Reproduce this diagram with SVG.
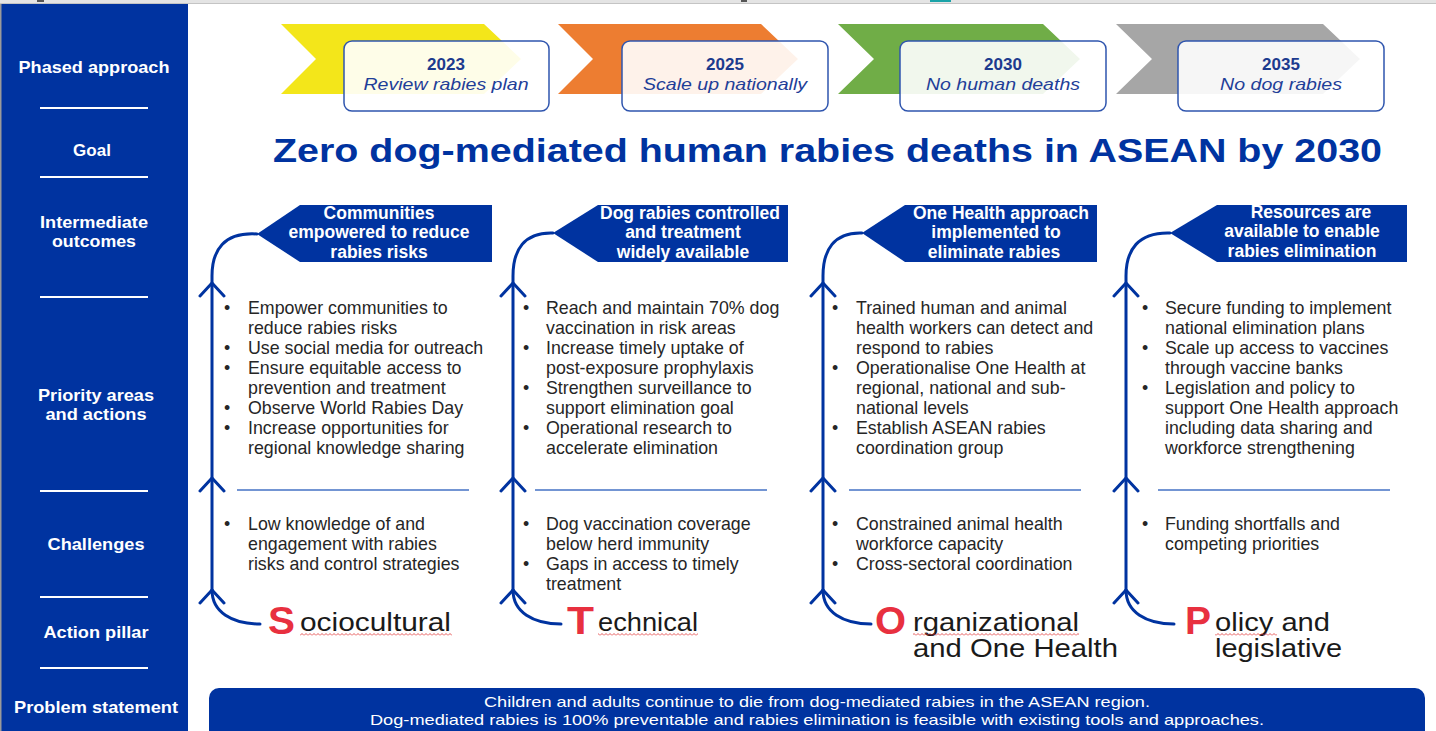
<svg xmlns="http://www.w3.org/2000/svg" width="1436" height="731" viewBox="0 0 1436 731">
<defs>
<style>
.side{font-family:"Liberation Sans",Arial,sans-serif;font-weight:bold;font-size:17px;fill:#fff;text-anchor:middle}
.sline{stroke:#fff;stroke-width:2}
.chev{stroke:none}
.pbox{fill:#fff;fill-opacity:0.9;stroke:#2F55AE;stroke-width:1.5}
.yr{font-family:"Liberation Sans",Arial,sans-serif;font-weight:bold;font-size:17px;fill:#1C3A8E;text-anchor:middle}
.ph{font-family:"Liberation Sans",Arial,sans-serif;font-style:italic;font-size:17px;fill:#1F3E98;text-anchor:middle}
.title{font-family:"Liberation Sans",Arial,sans-serif;font-weight:bold;font-size:34px;fill:#0033A0}
.pent{fill:#0033A0}
.pt{font-family:"Liberation Sans",Arial,sans-serif;font-weight:bold;font-size:17.5px;fill:#fff;text-anchor:middle}
.b{font-family:"Liberation Sans",Arial,sans-serif;font-size:17.8px;fill:#262626}
.flow{fill:none;stroke:#0033A0;stroke-width:3;stroke-linecap:round;stroke-linejoin:round}
.div{stroke:#4472C4;stroke-width:1.5}
.big{font-family:"Liberation Sans",Arial,sans-serif;font-weight:bold;font-size:38px;fill:#E8303F}
.pl{font-family:"Liberation Sans",Arial,sans-serif;font-size:25px;fill:#1a1a1a}
.ban{font-family:"Liberation Sans",Arial,sans-serif;font-size:15px;fill:#fff;text-anchor:middle}
</style>
<pattern id="squig" width="4" height="3" patternUnits="userSpaceOnUse">
<path d="M0,2.5 L2,0.5 L4,2.5" fill="none" stroke="#E03030" stroke-width="0.8"/>
</pattern>
</defs>

<!-- browser strip -->
<rect x="0" y="0" width="1436" height="4" fill="#E4E4E4"/>
<rect x="0" y="3" width="1436" height="1" fill="#C4C4C4"/>
<rect x="37" y="0" width="7" height="2" fill="#555"/>
<rect x="741" y="0" width="6" height="2" fill="#555"/>
<rect x="930" y="0" width="21" height="2" fill="#1AA3A8"/>

<!-- sidebar -->
<g id="sidebar">
<rect x="0" y="4" width="188" height="727" fill="#0033A0"/>
<rect x="0" y="4" width="1.5" height="727" fill="#9A9A9A"/>
<text class="side" x="94" y="73" textLength="151" lengthAdjust="spacingAndGlyphs">Phased approach</text>
<line class="sline" x1="40" y1="108" x2="148" y2="108"/>
<text class="side" x="92" y="156">Goal</text>
<line class="sline" x1="40" y1="177" x2="148" y2="177"/>
<text class="side" x="94" y="228" textLength="108" lengthAdjust="spacingAndGlyphs">Intermediate</text>
<text class="side" x="94" y="247" textLength="84" lengthAdjust="spacingAndGlyphs">outcomes</text>
<line class="sline" x1="40" y1="297" x2="148" y2="297"/>
<text class="side" x="96" y="401" textLength="116" lengthAdjust="spacingAndGlyphs">Priority areas</text>
<text class="side" x="96" y="420" textLength="101" lengthAdjust="spacingAndGlyphs">and actions</text>
<line class="sline" x1="40" y1="491" x2="148" y2="491"/>
<text class="side" x="96" y="550" textLength="97" lengthAdjust="spacingAndGlyphs">Challenges</text>
<line class="sline" x1="40" y1="597" x2="148" y2="597"/>
<text class="side" x="96" y="638" textLength="105" lengthAdjust="spacingAndGlyphs">Action pillar</text>
<line class="sline" x1="40" y1="668" x2="148" y2="668"/>
<text class="side" x="96" y="713" textLength="164" lengthAdjust="spacingAndGlyphs">Problem statement</text>
</g>

<!-- phases -->
<g id="phase-2023">
<polygon class="chev" fill="#F3E61A" points="281,24 484,24 521,59 484,94 281,94 316,59"/>
<rect class="pbox" x="344" y="41" width="205" height="70" rx="8"/>
<text class="yr" x="446" y="70">2023</text>
<text class="ph" x="446" y="90" textLength="165" lengthAdjust="spacingAndGlyphs">Review rabies plan</text>
</g>
<g id="phase-2025">
<polygon class="chev" fill="#ED7D31" points="558,24 761,24 798,59 761,94 558,94 593,59"/>
<rect class="pbox" x="622" y="41" width="206" height="70" rx="8"/>
<text class="yr" x="725" y="70">2025</text>
<text class="ph" x="725" y="90" textLength="164" lengthAdjust="spacingAndGlyphs">Scale up nationally</text>
</g>
<g id="phase-2030">
<polygon class="chev" fill="#70AD47" points="838,24 1043,24 1080,59 1043,94 838,94 874,59"/>
<rect class="pbox" x="900" y="41" width="206" height="70" rx="8"/>
<text class="yr" x="1003" y="70">2030</text>
<text class="ph" x="1003" y="90" textLength="154" lengthAdjust="spacingAndGlyphs">No human deaths</text>
</g>
<g id="phase-2035">
<polygon class="chev" fill="#A6A6A6" points="1116,24 1323,24 1360,59 1323,94 1116,94 1152,59"/>
<rect class="pbox" x="1178" y="41" width="206" height="70" rx="8"/>
<text class="yr" x="1281" y="70">2035</text>
<text class="ph" x="1281" y="90" textLength="122" lengthAdjust="spacingAndGlyphs">No dog rabies</text>
</g>

<!-- goal -->
<g id="goal">
<text class="title" x="273" y="162" textLength="1109" lengthAdjust="spacingAndGlyphs">Zero dog-mediated human rabies deaths in ASEAN by 2030</text>
</g>

<!-- connectors -->
<g id="connectors">
<path class="flow" d="M212,590 L212,276 C212,250 224,232 257,234"/>
<path class="flow" d="M212,590 C212,612 232,624 260,624"/>
<path class="flow" d="M200,296 L212,283 L224,296 M200,491 L212,478 L224,491 M200,603 L212,590 L224,603"/>

<path class="flow" d="M513,590 L513,276 C513,250 524,232 553,233"/>
<path class="flow" d="M513,590 C513,612 533,624 561,624"/>
<path class="flow" d="M501,296 L513,283 L525,296 M501,491 L513,478 L525,491 M501,603 L513,590 L525,603"/>

<path class="flow" d="M823,590 L823,276 C823,250 834,232 862,233"/>
<path class="flow" d="M823,590 C823,612 843,624 871,624"/>
<path class="flow" d="M811,296 L823,283 L835,296 M811,491 L823,478 L835,491 M811,603 L823,590 L835,603"/>

<path class="flow" d="M1126,590 L1126,276 C1126,250 1138,232 1170,233"/>
<path class="flow" d="M1126,590 C1126,612 1146,624 1174,624"/>
<path class="flow" d="M1114,296 L1126,283 L1138,296 M1114,491 L1126,478 L1138,491 M1114,603 L1126,590 L1138,603"/>
</g>

<!-- column 1 -->
<g id="outcome-1">
<polygon class="pent" points="257,234 300,205 492,205 492,262 300,262"/>
<text class="pt" x="379" y="219">Communities</text>
<text class="pt" x="379" y="238">empowered to reduce</text>
<text class="pt" x="379" y="258">rabies risks</text>
</g>
<g id="actions-1">
<text class="b" x="224" y="314">•</text><text class="b" x="248" y="314">Empower communities to</text>
<text class="b" x="248" y="334">reduce rabies risks</text>
<text class="b" x="224" y="354">•</text><text class="b" x="248" y="354">Use social media for outreach</text>
<text class="b" x="224" y="374">•</text><text class="b" x="248" y="374">Ensure equitable access to</text>
<text class="b" x="248" y="394">prevention and treatment</text>
<text class="b" x="224" y="414">•</text><text class="b" x="248" y="414">Observe World Rabies Day</text>
<text class="b" x="224" y="434">•</text><text class="b" x="248" y="434">Increase opportunities for</text>
<text class="b" x="248" y="454">regional knowledge sharing</text>
<line class="div" x1="237" y1="490" x2="469" y2="490"/>
</g>
<g id="challenges-1">
<text class="b" x="224" y="530">•</text><text class="b" x="248" y="530">Low knowledge of and</text>
<text class="b" x="248" y="550">engagement with rabies</text>
<text class="b" x="248" y="570">risks and control strategies</text>
</g>
<g id="pillar-1">
<text class="big" x="268" y="634" textLength="27" lengthAdjust="spacingAndGlyphs">S</text>
<text class="pl" x="300" y="631" textLength="151" lengthAdjust="spacingAndGlyphs">ociocultural</text>
<rect x="300" y="633" width="152" height="3" fill="url(#squig)"/>
</g>

<!-- column 2 -->
<g id="outcome-2">
<polygon class="pent" points="553,233 598,205 788,205 788,262 598,262"/>
<text class="pt" x="690" y="219">Dog rabies controlled</text>
<text class="pt" x="683" y="238">and treatment</text>
<text class="pt" x="683" y="258">widely available</text>
</g>
<g id="actions-2">
<text class="b" x="523" y="314">•</text><text class="b" x="546" y="314">Reach and maintain 70% dog</text>
<text class="b" x="546" y="334">vaccination in risk areas</text>
<text class="b" x="523" y="354">•</text><text class="b" x="546" y="354">Increase timely uptake of</text>
<text class="b" x="546" y="374">post-exposure prophylaxis</text>
<text class="b" x="523" y="394">•</text><text class="b" x="546" y="394">Strengthen surveillance to</text>
<text class="b" x="546" y="414">support elimination goal</text>
<text class="b" x="523" y="434">•</text><text class="b" x="546" y="434">Operational research to</text>
<text class="b" x="546" y="454">accelerate elimination</text>
<line class="div" x1="535" y1="490" x2="767" y2="490"/>
</g>
<g id="challenges-2">
<text class="b" x="523" y="530">•</text><text class="b" x="546" y="530">Dog vaccination coverage</text>
<text class="b" x="546" y="550">below herd immunity</text>
<text class="b" x="523" y="570">•</text><text class="b" x="546" y="570">Gaps in access to timely</text>
<text class="b" x="546" y="590">treatment</text>
</g>
<g id="pillar-2">
<text class="big" x="567" y="634" textLength="27" lengthAdjust="spacingAndGlyphs">T</text>
<text class="pl" x="598" y="631" textLength="100" lengthAdjust="spacingAndGlyphs">echnical</text>
<rect x="598" y="633" width="100" height="3" fill="url(#squig)"/>
</g>

<!-- column 3 -->
<g id="outcome-3">
<polygon class="pent" points="862,233 905,205 1097,205 1097,262 905,262"/>
<text class="pt" x="1001" y="219">One Health approach</text>
<text class="pt" x="996" y="238">implemented to</text>
<text class="pt" x="994" y="258">eliminate rabies</text>
</g>
<g id="actions-3">
<text class="b" x="832" y="314">•</text><text class="b" x="856" y="314">Trained human and animal</text>
<text class="b" x="856" y="334">health workers can detect and</text>
<text class="b" x="856" y="354">respond to rabies</text>
<text class="b" x="832" y="374">•</text><text class="b" x="856" y="374">Operationalise One Health at</text>
<text class="b" x="856" y="394">regional, national and sub-</text>
<text class="b" x="856" y="414">national levels</text>
<text class="b" x="832" y="434">•</text><text class="b" x="856" y="434">Establish ASEAN rabies</text>
<text class="b" x="856" y="454">coordination group</text>
<line class="div" x1="849" y1="490" x2="1081" y2="490"/>
</g>
<g id="challenges-3">
<text class="b" x="832" y="530">•</text><text class="b" x="856" y="530">Constrained animal health</text>
<text class="b" x="856" y="550">workforce capacity</text>
<text class="b" x="832" y="570">•</text><text class="b" x="856" y="570">Cross-sectoral coordination</text>
</g>
<g id="pillar-3">
<text class="big" x="875" y="634" textLength="31" lengthAdjust="spacingAndGlyphs">O</text>
<text class="pl" x="913" y="631" textLength="166" lengthAdjust="spacingAndGlyphs">rganizational</text>
<rect x="913" y="633" width="166" height="3" fill="url(#squig)"/>
<text class="pl" x="913" y="657" textLength="205" lengthAdjust="spacingAndGlyphs">and One Health</text>
</g>

<!-- column 4 -->
<g id="outcome-4">
<polygon class="pent" points="1170,233 1217,205 1407,205 1407,262 1217,262"/>
<text class="pt" x="1311" y="218">Resources are</text>
<text class="pt" x="1302" y="237">available to enable</text>
<text class="pt" x="1302" y="257">rabies elimination</text>
</g>
<g id="actions-4">
<text class="b" x="1142" y="314">•</text><text class="b" x="1165" y="314">Secure funding to implement</text>
<text class="b" x="1165" y="334">national elimination plans</text>
<text class="b" x="1142" y="354">•</text><text class="b" x="1165" y="354">Scale up access to vaccines</text>
<text class="b" x="1165" y="374">through vaccine banks</text>
<text class="b" x="1142" y="394">•</text><text class="b" x="1165" y="394">Legislation and policy to</text>
<text class="b" x="1165" y="414">support One Health approach</text>
<text class="b" x="1165" y="434">including data sharing and</text>
<text class="b" x="1165" y="454">workforce strengthening</text>
<line class="div" x1="1158" y1="490" x2="1390" y2="490"/>
</g>
<g id="challenges-4">
<text class="b" x="1142" y="530">•</text><text class="b" x="1165" y="530">Funding shortfalls and</text>
<text class="b" x="1165" y="550">competing priorities</text>
</g>
<g id="pillar-4">
<text class="big" x="1185" y="634" textLength="26" lengthAdjust="spacingAndGlyphs">P</text>
<text class="pl" x="1215" y="631" textLength="115" lengthAdjust="spacingAndGlyphs">olicy and</text>
<rect x="1215" y="633" width="62" height="3" fill="url(#squig)"/>
<text class="pl" x="1215" y="657" textLength="127" lengthAdjust="spacingAndGlyphs">legislative</text>
</g>

<!-- problem statement -->
<g id="problem">
<rect x="209" y="688" width="1216" height="60" rx="10" fill="#0033A0"/>
<text class="ban" x="817" y="707" textLength="666" lengthAdjust="spacingAndGlyphs">Children and adults continue to die from dog-mediated rabies in the ASEAN region.</text>
<text class="ban" x="817" y="725" textLength="894" lengthAdjust="spacingAndGlyphs">Dog-mediated rabies is 100% preventable and rabies elimination is feasible with existing tools and approaches.</text>
</g>
</svg>
